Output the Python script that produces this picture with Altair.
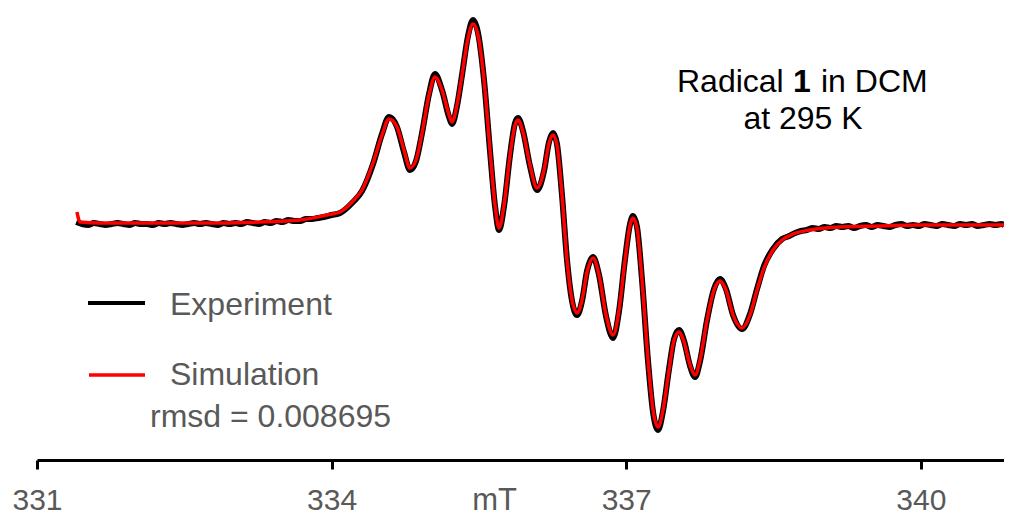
import altair as alt
import pandas as pd

# ---------------- data ----------------
sim_field = [
    331.407, 331.438, 331.642, 332.151, 332.660, 333.271, 333.678, 333.953,
    334.086, 334.218, 334.310, 334.422, 334.513, 334.585, 334.666, 334.737,
    334.798, 334.860, 334.921, 334.992, 335.053, 335.124, 335.196, 335.226,
    335.277, 335.328, 335.389, 335.440, 335.491, 335.552, 335.613, 335.664,
    335.705, 335.756, 335.817, 335.868, 335.898, 335.949, 336.020, 336.092,
    336.163, 336.214, 336.255, 336.295, 336.346, 336.397, 336.448, 336.499,
    336.550, 336.601, 336.662, 336.723, 336.794, 336.866, 336.927, 336.988,
    337.039, 337.069, 337.110, 337.161, 337.222, 337.273, 337.324, 337.375,
    337.436, 337.487, 337.538, 337.589, 337.650, 337.701, 337.752, 337.823,
    337.894, 337.955, 338.016, 338.088, 338.179, 338.261, 338.332, 338.403,
    338.495, 338.587, 338.699, 338.872, 339.177, 339.585, 339.992, 340.399,
    340.847,
]
sim_signal = [
    0.10, 0.00, -0.01, -0.01, -0.01, 0.00, 0.02, 0.07,
    0.10, 0.21, 0.32, 0.59, 0.87, 1.03, 0.95, 0.72,
    0.54, 0.62, 0.89, 1.27, 1.45, 1.32, 1.07, 1.00,
    1.17, 1.47, 1.84, 1.98, 1.87, 1.42, 0.72, 0.17,
    -0.06, 0.17, 0.67, 0.97, 1.02, 0.90, 0.57, 0.34,
    0.52, 0.79, 0.87, 0.77, 0.27, -0.38, -0.78, -0.91,
    -0.78, -0.50, -0.36, -0.53, -0.93, -1.13, -0.88, -0.38,
    -0.03, 0.04, -0.06, -0.58, -1.38, -1.88, -2.05, -1.88,
    -1.48, -1.18, -1.10, -1.20, -1.43, -1.53, -1.38, -0.98,
    -0.68, -0.59, -0.68, -0.93, -1.06, -0.93, -0.68, -0.46,
    -0.28, -0.18, -0.12, -0.08, -0.05, -0.04, -0.03, -0.03,
    -0.03,
]

exp_field = [
    331.40, 331.46, 331.52, 331.58, 331.64, 331.70, 331.76, 331.82, 331.88,
    331.94, 332.00, 332.06, 332.12, 332.18, 332.24, 332.30, 332.36, 332.42,
    332.48, 332.54, 332.60, 332.66, 332.72, 332.78, 332.84, 332.90, 332.96,
    333.02, 333.08, 333.14, 333.20, 333.26, 333.32, 333.38, 333.44, 333.50,
    333.56, 333.62, 333.68, 333.74, 333.80, 333.86, 333.92, 334.00,
    334.086, 334.218, 334.310, 334.422, 334.513, 334.585, 334.666, 334.737,
    334.798, 334.860, 334.921, 334.992, 335.053, 335.124, 335.196, 335.226,
    335.277, 335.328, 335.389, 335.440, 335.491, 335.552, 335.613, 335.664,
    335.705, 335.756, 335.817, 335.868, 335.898, 335.949, 336.020, 336.092,
    336.163, 336.214, 336.255, 336.295, 336.346, 336.397, 336.448, 336.499,
    336.550, 336.601, 336.662, 336.723, 336.794, 336.866, 336.927, 336.988,
    337.039, 337.069, 337.110, 337.161, 337.222, 337.273, 337.324, 337.375,
    337.436, 337.487, 337.538, 337.589, 337.650, 337.701, 337.752, 337.823,
    337.894, 337.955, 338.016, 338.088, 338.179, 338.261, 338.332, 338.403,
    338.495, 338.587,
    338.66, 338.72, 338.78, 338.84, 338.90, 338.96, 339.02, 339.08, 339.14,
    339.20, 339.26, 339.32, 339.38, 339.44, 339.50, 339.56, 339.62, 339.68,
    339.74, 339.80, 339.86, 339.92, 339.98, 340.04, 340.10, 340.16, 340.22,
    340.28, 340.34, 340.40, 340.46, 340.52, 340.58, 340.64, 340.70, 340.76,
    340.82, 340.85,
]
exp_signal = [
    0.00, -0.02, -0.03, -0.01, -0.02, -0.03, -0.02, -0.01, -0.02,
    -0.03, -0.01, -0.02, -0.02, -0.03, -0.01, -0.02, -0.01, -0.02,
    -0.03, -0.02, -0.01, -0.02, -0.01, -0.02, -0.03, -0.01, -0.02,
    -0.01, -0.02, 0.00, -0.01, -0.02, 0.00, -0.01, 0.01, 0.00,
    0.02, 0.01, 0.01, 0.03, 0.03, 0.04, 0.05, 0.07,
    0.09, 0.20, 0.31, 0.58, 0.88, 1.05, 0.95, 0.70,
    0.52, 0.61, 0.89, 1.28, 1.48, 1.32, 1.05, 0.98,
    1.16, 1.47, 1.86, 2.02, 1.89, 1.42, 0.71, 0.16,
    -0.08, 0.16, 0.67, 0.99, 1.04, 0.91, 0.56, 0.32,
    0.51, 0.80, 0.89, 0.78, 0.27, -0.38, -0.79, -0.93,
    -0.79, -0.49, -0.35, -0.53, -0.94, -1.16, -0.89, -0.37,
    -0.02, 0.06, -0.05, -0.58, -1.39, -1.90, -2.08, -1.89,
    -1.47, -1.17, -1.08, -1.19, -1.44, -1.55, -1.39, -0.98,
    -0.67, -0.57, -0.67, -0.93, -1.07, -0.92, -0.67, -0.44,
    -0.27, -0.17,
    -0.14, -0.11, -0.09, -0.08, -0.06, -0.07, -0.05, -0.06, -0.04,
    -0.05, -0.04, -0.06, -0.04, -0.03, -0.05, -0.03, -0.04, -0.05,
    -0.03, -0.02, -0.04, -0.03, -0.04, -0.02, -0.03, -0.04, -0.02,
    -0.03, -0.04, -0.02, -0.03, -0.02, -0.04, -0.03, -0.02, -0.03,
    -0.02, -0.03,
]

x_ticks = [331, 334, 337, 340]
x_title = "mT"
legend_labels = ["Experiment", "Simulation"]
rmsd_label = ["rmsd = 0.008695"]
title_parts = ["Radical", "1", "in DCM"]
subtitle = ["at 295 K"]

# ---------------- styling ----------------
FONT = "Liberation Sans, Arial, sans-serif"
GREY = "#595959"
W, H = 967, 452
X_DOMAIN = [331, 340.847]
Y_DOMAIN = [-2.38, 2.14]

xs = alt.Scale(domain=X_DOMAIN, nice=False, zero=False)
ys = alt.Scale(domain=Y_DOMAIN, nice=False, zero=False)

x_axis = alt.Axis(
    values=x_ticks, format="d", title=x_title, grid=False,
    domainColor="black", domainWidth=3, tickColor="black", tickWidth=3,
    tickSize=9, labelFont=FONT, labelFontSize=30, labelColor=GREY,
    labelBaseline="alphabetic", labelPadding=40, labelFlush=False,
    titleFont=FONT, titleFontSize=31, titleColor=GREY, titleFontWeight="normal",
    titleX=457, titleY=49, titleBaseline="alphabetic", titleAlign="center",
)

exp_df = pd.DataFrame({"field": exp_field, "signal": exp_signal})
sim_df = pd.DataFrame({"field": sim_field, "signal": sim_signal})

x_enc = alt.X("field:Q", scale=xs, axis=x_axis)
y_enc = alt.Y("signal:Q", scale=ys, axis=None)

exp_line = alt.Chart(exp_df).mark_line(
    color="black", strokeWidth=6, interpolate="monotone", clip=True
).encode(x=x_enc, y=y_enc)

sim_line = alt.Chart(sim_df).mark_line(
    color="#ff0000", strokeWidth=3.5, interpolate="monotone", clip=True
).encode(x=x_enc, y=y_enc)


def label(text, x, y, size=32, color=GREY, weight="normal", align="left"):
    return alt.Chart(pd.DataFrame({"t": [text]})).mark_text(
        font=FONT, fontSize=size, color=color, fontWeight=weight,
        align=align, baseline="alphabetic",
    ).encode(text="t:N", x=alt.value(x), y=alt.value(y))


leg_exp = alt.Chart(pd.DataFrame({"s": [legend_labels[0]]})).mark_rule(
    color="black", strokeWidth=4
).encode(x=alt.value(51), x2=alt.value(108), y=alt.value(295))
leg_sim = alt.Chart(pd.DataFrame({"s": [legend_labels[1]]})).mark_rule(
    color="#ff0000", strokeWidth=3.5
).encode(x=alt.value(52), x2=alt.value(108), y=alt.value(367))

texts = [
    label(legend_labels[0], 133, 307),
    label(legend_labels[1], 133, 377),
    label(rmsd_label[0], 113, 419),
    label(title_parts[0], 640, 84, color="black"),
    label(title_parts[1], 756, 84, color="black", weight="bold"),
    label(title_parts[2], 784, 84, color="black"),
    label(subtitle[0], 766, 121, color="black", align="center"),
]

chart = alt.layer(exp_line, sim_line, leg_exp, leg_sim, *texts).properties(
    width=W, height=H,
    autosize=alt.AutoSizeParams(type="none"),
    padding={"left": 29, "top": 0, "right": 0, "bottom": 56},
    background="white",
).configure_view(stroke=None)

chart.save("out.html", embed_options={"renderer": "svg", "actions": False})
